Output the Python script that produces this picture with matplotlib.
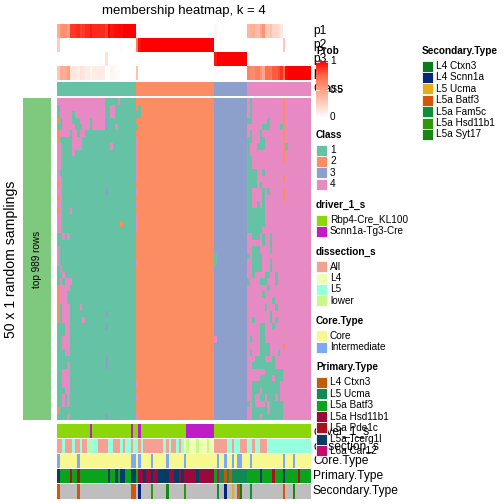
import matplotlib
matplotlib.use('Agg')
import matplotlib.pyplot as plt
import numpy as np
from matplotlib.colors import ListedColormap, LinearSegmentedColormap
from matplotlib.patches import Rectangle

plt.rcParams['font.family'] = ['Liberation Sans', 'DejaVu Sans']

# ----------------------------------------------------------------
# data, run-length coded: "4x19" = nineteen 4s
# ----------------------------------------------------------------
class_labels = ['1', '2', '3', '4']
class_colors = ['#66C2A5', '#FC8D62', '#8DA0CB', '#E78AC3']
class_sizes = [31, 31, 13, 25]

# class given by each of the 50 samplings (rows) to each sample (columns)
membership_runs = [
    "4x19 1x5 4 1x6 | 2x31 | 3x13 | 4 1 4x12 2 4x10",
    "1 4x18 1x2 4x2 1x8 | 2 1 2x29 | 3x13 | 4 1 4x12 2 4x10",
    "1 4x5 1 4x12 1x2 4x2 1x8 | 1 1 2x29 | 3x13 | 4 1 4x12 2 4x10",
    "2 1 4x4 1x3 4x4 1 4x5 3 1x11 | 2x31 | 3x13 | 1x2 4x6 1 4x5 2 4x10",
    "1x2 4x5 1x3 4x3 1 4x5 3 1x3 4 1x7 | 1 2x30 | 3x13 | 4x6 1x3 4x4 1 2 4x10",
    "2 4x4 1 4x2 1 4x2 1x20 | 2x31 | 3x13 | 4 1 4x3 1 4x8 2 4x10",
    "2 1x5 4x4 1x21 | 4 2x30 | 3x13 | 1x2 4x3 1x2 4x7 2 4x10",
    "4x2 1x4 4x4 1x11 4 1x9 | 4 2x30 | 3x13 | 1 4x3 1x3 4x7 2 1 4x9",
    "4x2 1x4 4 1x24 | 4 2x30 | 3x13 | 1 4x13 2 4x10",
    "4x2 1x29 | 4 2x30 | 3x13 | 1x2 4x12 2 4x10",
    "4x2 1x29 | 4 2x30 | 3x13 | 1x2 4x23",
    "4 1x30 | 4 2x30 | 3x13 | 1x4 4x2 1 4x18",
    "4x2 1x29 | 4 2x30 | 3x13 | 1x4 4x10 2 4x10",
    "2 4 1x29 | 2x31 | 3x13 | 1x4 4 1 4x19",
    "4x2 1x17 3 1x11 | 4 2x30 | 3x13 | 1x2 4x4 1 4 1 4x5 2 4x10",
    "2 4 1x29 | 2x31 | 3x13 | 1x2 4x4 1 4x7 2 4x10",
    "4x2 1x29 | 4 2x30 | 3x13 | 1x2 4x2 1 4 1 4x18",
    "2 4 1x3 4 1x25 | 2x31 | 3x13 | 1x7 4x18",
    "4x2 1x29 | 4 2x30 | 3x13 | 1x7 4x18",
    "4x2 1x23 2 1x5 | 4 2x30 | 3x13 | 1x7 4x18",
    "4x2 1x29 | 4 2x30 | 3x13 | 1x6 4x19",
    "1x2 4 1 4 1x26 | 2x31 | 3x13 | 4x2 1x3 4 1 4x2 1 4x15",
    "1x31 | 2x31 | 3x13 | 4x6 1 4x2 1 4x15",
    "4 1x30 | 2x31 | 3x13 | 4x2 1x3 4x4 1 4x15",
    "4 1x30 | 2x31 | 1 3x12 | 1 4 1x4 4x19",
    "4 1x30 | 4 2x30 | 1 3x12 | 4x2 1x4 4x3 1 4x15",
    "1 4 1x29 | 2x31 | 3x13 | 4x2 1x4 4x3 1 4x15",
    "1x2 4 1x28 | 2x31 | 3x13 | 4x2 1 4x4 1x2 4x2 1 4x13",
    "1 4 1 4x3 1x25 | 2x31 | 3x13 | 1 4x4 1x3 4x3 1 4x13",
    "2 4x4 1x26 | 2x31 | 3x13 | 4x8 1 4x16",
    "2 4x3 1x27 | 2x31 | 3x13 | 4x6 1 4x18",
    "2 4x3 1x27 | 2x31 | 3x13 | 4x10 1 4x14",
    "2 1 4x3 1x4 4 1x21 | 2x31 | 3x13 | 4x7 1 4x3 1 4x13",
    "2 1 4x3 1x14 3 1x11 | 2x31 | 3x13 | 4x9 1 4x15",
    "2 1 4x3 1x5 4 1x20 | 2x31 | 3x13 | 4x2 1 4x6 1 4 1 4x13",
    "1x3 4x2 1x14 3 1x11 | 2x31 | 3x13 | 4x5 1x2 4x3 1 4x14",
    "1x3 4x2 1x26 | 2x31 | 3x13 | 4x5 1x2 4x18",
    "1x2 4x3 1x26 | 2x31 | 4 3x12 | 4 1 4x3 1x2 4x18",
    "1x2 4x3 1x26 | 2x31 | 3x13 | 4x5 1x4 4x5 2 4x10",
    "1x3 4x2 1x26 | 2x31 | 3x13 | 4 1 4x3 1x4 4x3 1 4x12",
    "1x19 3 1x11 | 2x31 | 3x13 | 4x3 1x4 4x3 1 4x14",
    "1x4 4 1x14 3 1x11 | 2x31 | 3x13 | 4x2 1x9 4x14",
    "1x2 4x3 1x26 | 2x31 | 3x13 | 4x7 1x7 4x11",
    "1x2 4x3 1x26 | 2x31 | 3x13 | 4x5 1x5 4 1x3 4x11",
    "1x2 4x3 1x26 | 4 2x30 | 3x13 | 4x2 1x11 4x12",
    "1x3 4x2 1x26 | 2x31 | 3x13 | 4x2 1x3 4 1x7 4x12",
    "1x2 4 1 4 1x26 | 4 2x30 | 3x13 | 4x2 1 4x2 1x2 4 1x3 4 1 4x12",
    "1x2 4 1 4 1x26 | 2x31 | 3x13 | 1 4 1 4x4 1 4 1x5 4x11",
    "2 1x30 | 2x31 | 3x13 | 4x2 1x6 4 1x5 4x11",
    "1x4 4 1x14 3 1x11 | 4 2x30 | 3x13 | 4x2 1x3 4 1x8 4x11",
]

driver_labels = ['Rbp4-Cre_KL100', 'Scnn1a-Tg3-Cre']
driver_colors = ['#8CD70B', '#BE1CC7']
driver_codes = 'RS'
driver_runs = "Rx13 S Rx15 S Rx2 S Rx18 Sx11 Rx38"

dissection_labels = ['All', 'L4', 'L5', 'lower']
dissection_colors = ['#F4A092', '#EEFFB4', '#96FFDC', '#C8F78A']
dissection_codes = 'A45w'
dissection_runs = ("Ax2 5 Ax3 5 Ax2 5 Ax2 5 w 5x2 Ax4 5x2 Ax3 5 A 5x2 A 5x2 A 5 Ax8 5 A 5 "
                   "Ax2 5 A 5 4 w 4x3 w 4x3 w 4x2 Ax5 5x2 A 5x2 Ax3 5x2 A 5x2 Ax3 5x17")

core_labels = ['Core', 'Intermediate']
core_colors = ['#F8F891', '#7BA9F6']
core_codes = 'CI'
core_runs = ("I Cx7 I Cx20 Ix2 C I Cx4 I Cx5 I Cx6 I Cx12 I Cx2 I Cx2 I C Ix2 Cx3 I "
             "Cx12 I Cx3 I Cx6")

primary_labels = ['L4 Ctxn3', 'L5 Ucma', 'L5a Batf3', 'L5a Hsd11b1', 'L5a Pde1c',
                  'L5a Tcerg1l', 'L6a Car12']
primary_colors = ['#BF5D0B', '#108A52', '#0BA21C', '#990A3A', '#A8121F', '#053D64', '#C80A6F']
primary_codes = 'CUBHPTR'
primary_runs = ("T Bx4 P Bx2 P Bx11 T Bx2 T B Tx2 Bx2 Tx2 B Hx2 T Hx2 T Hx2 Tx4 Hx2 Tx2 H T "
                "Hx5 T Hx6 B R Ux2 C U C Ux6 Bx5 T Bx4 P Bx3 T Bx5 P Bx4")

secondary_labels = ['L4 Ctxn3', 'L4 Scnn1a', 'L5 Ucma', 'L5a Batf3', 'L5a Fam5c',
                    'L5a Hsd11b1', 'L5a Syt17']
secondary_colors = ['#0C7B1D', '#05257F', '#E3AE17', '#D5560A', '#0C9138', '#2C990D', '#198613']
secondary_codes = 'CSUBFHY'
secondary_runs = ("B -x7 B -x20 Bx2 - S -x4 H -x5 Y -x6 H -x12 F -x2 S -x2 U - B C -x3 F "
                  "-x12 B -x3 Y -x6")
na_color = '#BEBEBE'

n_rows_text = 'top 989 rows'
samplings_text = '50 x 1 random samplings'


def expand(runs):
    out = []
    for tok in runs.split():
        if tok == '|':
            continue
        v, _, n = tok.partition('x')
        out.extend([v] * (int(n) if n else 1))
    return out


mat = np.array([[int(v) for v in expand(r)] for r in membership_runs])
assert mat.shape == (50, 100), mat.shape
n_samp, n_col = mat.shape
prob = np.array([(mat == k).mean(axis=0) for k in range(1, 5)])
col_class = np.repeat(np.arange(1, 5), class_sizes)

# ----------------------------------------------------------------
# figure in pixel units
# ----------------------------------------------------------------
W = 504
fig = plt.figure(figsize=(7, 7), dpi=72, facecolor='white')


def px_axes(x0, y0, x1, y1):
    ax = fig.add_axes([x0 / W, 1 - y1 / W, (x1 - x0) / W, (y1 - y0) / W])
    ax.set_axis_off()
    return ax


def strip(ax, values, cmap, vmin, vmax):
    values = np.atleast_2d(values)
    ax.pcolormesh(np.arange(values.shape[1] + 1), np.arange(values.shape[0] + 1), values,
                  cmap=cmap, vmin=vmin, vmax=vmax, edgecolors='none', antialiased=False)
    ax.set_xlim(0, values.shape[1])
    ax.set_ylim(values.shape[0], 0)


X0, X1 = 57, 310.5
prob_cmap = LinearSegmentedColormap.from_list(
    'prob', ['#FFFFFF', '#FFCFBF', '#FF9E82', '#FF6847', '#FF0000'])
cls_cmap = ListedColormap(class_colors)

ax_p = px_axes(X0, 24, X1, 80)
strip(ax_p, prob, prob_cmap, 0, 1)

ax_c = px_axes(X0, 81.7, X1, 96)
strip(ax_c, col_class, cls_cmap, 0.5, 4.5)

ax_b = px_axes(X0, 98.3, X1, 420)
strip(ax_b, mat, cls_cmap, 0.5, 4.5)

ax_side = px_axes(23, 98.3, 51, 420)
ax_side.set_axis_on()
ax_side.set_facecolor('#7FC97F')
ax_side.set_xticks([])
ax_side.set_yticks([])
for s in ax_side.spines.values():
    s.set_visible(False)

annotations = [
    ('driver_1_s', driver_runs, driver_codes, driver_colors, None, 424, 437.7),
    ('dissection_s', dissection_runs, dissection_codes, dissection_colors, None, 438.7, 452.7),
    ('Core.Type', core_runs, core_codes, core_colors, None, 453.7, 467.7),
    ('Primary.Type', primary_runs, primary_codes, primary_colors, None, 468.7, 482.7),
    ('Secondary.Type', secondary_runs, secondary_codes, secondary_colors, na_color, 483.7, 498.5),
]
for name, runs, codes, colors, na, y0, y1 in annotations:
    vals = expand(runs)
    assert len(vals) == n_col, (name, len(vals))
    pal = list(colors) + ([na] if na else [])
    idx = np.array([codes.index(v) if v in codes else len(colors) for v in vals])
    ax = px_axes(X0, y0, X1, y1)
    strip(ax, idx, ListedColormap(pal), -0.5, len(pal) - 0.5)

# ----------------------------------------------------------------
# overlay: texts and legends
# ----------------------------------------------------------------
ov = fig.add_axes([0, 0, 1, 1])
ov.set_xlim(0, W)
ov.set_ylim(W, 0)
ov.set_axis_off()
ov.patch.set_alpha(0)

ov.text((X0 + X1) / 2, 11, 'membership heatmap, k = 4', fontsize=13.2,
        ha='center', va='center')
for i, lab in enumerate(['p1', 'p2', 'p3', 'p4']):
    ov.text(313, 31 + 14 * i, lab, fontsize=12, ha='left', va='center', zorder=1)
ov.text(313, 89, 'Class', fontsize=12, ha='left', va='center', zorder=1)
for name, *_, y0, y1 in annotations:
    ov.text(313, (y0 + y1) / 2, name, fontsize=12, ha='left', va='center', zorder=1)

ov.text(11, 259, samplings_text, fontsize=14, rotation=90, ha='center', va='center')
ov.text(37, 259, n_rows_text, fontsize=10, rotation=90, ha='center', va='center')


def legend(x, y_title, title, labels, colors, step=11.4):
    ov.text(x, y_title, title, fontsize=10, fontweight='bold', ha='left', va='center',
            zorder=5)
    for i, (lab, col) in enumerate(zip(labels, colors)):
        yc = y_title + 15 + step * i
        ov.add_patch(Rectangle((x + 0.3, yc - 5.5), 10.5, 11, facecolor=col,
                               edgecolor='white', linewidth=0.8, zorder=4))
        ov.text(x + 14, yc, lab, fontsize=10, ha='left', va='center', zorder=5)


# Prob colour bar
ov.text(316, 51, 'Prob', fontsize=10, fontweight='bold', ha='left', va='center', zorder=5)
grad = np.linspace(1, 0, 80)[:, None]
ov.pcolormesh([316, 328], np.linspace(61, 118, 81), grad, cmap=prob_cmap, vmin=0, vmax=1,
              zorder=4, antialiased=False)
for v, yy in [(1, 61.5), (0.5, 90), (0, 117.5)]:
    ov.plot([316, 318.5], [yy, yy], color='white', lw=0.8, zorder=4.5)
    ov.plot([325.5, 328], [yy, yy], color='white', lw=0.8, zorder=4.5)
    ov.text(330, yy, f'{v:g}', fontsize=10, ha='left', va='center', zorder=5)

legend(316, 135, 'Class', class_labels, class_colors)
legend(316, 205, 'driver_1_s', driver_labels, driver_colors)
legend(316, 251.7, 'dissection_s', dissection_labels, dissection_colors)
legend(316, 320.7, 'Core.Type', core_labels, core_colors)
legend(316, 367.3, 'Primary.Type', primary_labels, primary_colors)
legend(422, 51, 'Secondary.Type', secondary_labels, secondary_colors)

fig.savefig('out.png', dpi=72, facecolor='white')
